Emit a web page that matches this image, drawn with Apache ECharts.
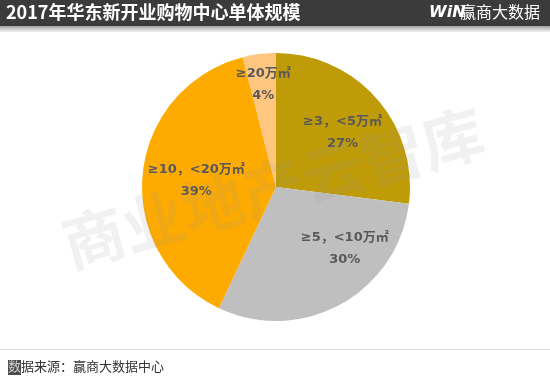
<!DOCTYPE html>
<html>
<head>
<meta charset="utf-8">
<script src="https://cdn.jsdelivr.net/npm/echarts@6/dist/echarts.min.js"></script>
<style>
  html, body { margin: 0; padding: 0; background: #fff; }
  #main { width: 550px; height: 378px; }
</style>
</head>
<body>
<div id="main"></div>
<script>
// 数据
var categories = ['≥3，<5万㎡', '≥5，<10万㎡', '≥10，<20万㎡', '≥20万㎡'];
var shares = [27, 30, 39, 4];

var titleText = '2017年华东新开业购物中心单体规模';
var sourceText = '据来源：赢商大数据中心';
var watermark = '商业地产云智库';

var chart = echarts.init(document.getElementById('main'));

// 标签相对默认位置的偏移
var labelShift = [[14, -8], [35, 0], [-10, 0], [-4, -33]];

var cjk = '"Noto Sans CJK SC", "Microsoft YaHei", sans-serif';

var option = {
  backgroundColor: '#fff',
  color: ['#bf9b08', '#bfbfbf', '#fdab00', '#ffc680'],
  animation: false,
  graphic: [
    // 顶部标题栏
    { type: 'rect', left: 0, top: 0, shape: { width: 550, height: 26 }, style: { fill: '#3b3b3b' } },
    { type: 'rect', left: 0, top: 26, shape: { width: 550, height: 6 },
      style: { fill: new echarts.graphic.LinearGradient(0, 0, 0, 1, [
        { offset: 0, color: '#9a9a9a' }, { offset: 0.4, color: '#c4c4c4' }, { offset: 1, color: '#f0f0f0' }]) } },
    { type: 'text', left: 6, top: 3,
      style: { text: titleText, fill: '#fff', font: 'bold 18px ' + cjk } },
    { type: 'text', left: 429, top: 5,
      style: { text: 'WiN', fill: '#fff', font: 'italic 900 16px "DejaVu Sans", sans-serif' } },
    { type: 'text', left: 460, top: 4,
      style: { text: '赢商大数据', fill: '#fff', font: '16px ' + cjk } },
    // 底部来源
    { type: 'rect', left: 0, top: 349, shape: { width: 550, height: 1 }, style: { fill: '#dcdcdc' } },
    { type: 'rect', left: 8, top: 360, shape: { width: 13, height: 15 }, style: { fill: '#4a4a4a' } },
    { type: 'text', left: 8, top: 360,
      style: { text: '数', fill: '#d0d0d0', font: '13px ' + cjk } },
    { type: 'text', left: 21, top: 360,
      style: { text: sourceText, fill: '#333', font: '13px ' + cjk } },
    // 水印
    { type: 'text', x: 273, y: 188, rotation: 0.27, z: 100,
      style: { text: watermark, fill: 'rgba(150,150,150,0.13)', font: 'bold 62px ' + cjk,
        align: 'center', verticalAlign: 'middle', textAlign: 'center', textVerticalAlign: 'middle' } }
  ],
  series: [{
    type: 'pie',
    center: [276, 187],
    radius: 134,
    startAngle: 90,
    clockwise: true,
    data: categories.map(function (c, i) { return { name: c, value: shares[i] }; }),
    label: {
      show: true,
      position: 'inside',
      formatter: '{b}\n{c}%',
      color: '#595959',
      fontFamily: '"DejaVu Sans", "Noto Sans CJK SC", sans-serif',
      fontWeight: 'bold',
      fontSize: 13,
      lineHeight: 22
    },
    labelLine: { show: false },
    labelLayout: function (p) {
      var s = labelShift[p.dataIndex];
      return { dx: s[0], dy: s[1] };
    },
    emphasis: { disabled: true }
  }]
};

chart.setOption(option);
</script>
</body>
</html>
